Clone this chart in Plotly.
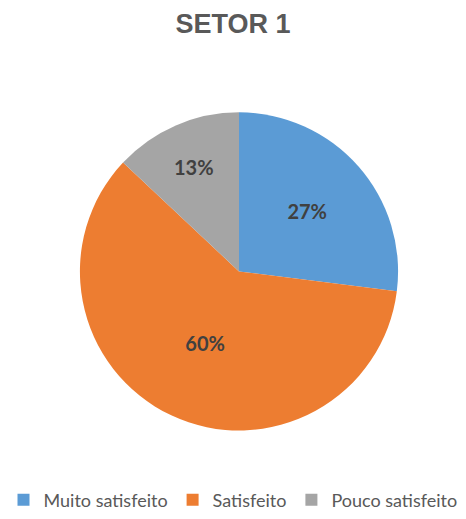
import plotly.graph_objects as go

# Satisfaction breakdown for sector 1
categories = ["Muito satisfeito", "Satisfeito", "Pouco satisfeito"]
shares = [27, 60, 13]
colors = ["#5B9BD5", "#ED7D31", "#A5A5A5"]

W, H = 466, 519
cx, cy, r = 239, 273, 160

fig = go.Figure(
    go.Pie(
        labels=categories,
        values=shares,
        sort=False,
        direction="clockwise",
        rotation=0,
        marker=dict(colors=colors, line=dict(width=0)),
        textinfo="percent",
        texttemplate="%{value}%",
        textposition="inside",
        insidetextorientation="horizontal",
        textfont=dict(family="Lato", size=20, color="#404040", weight="bold"),
        domain=dict(
            x=[(cx - r) / W, (cx + r) / W],
            y=[(H - cy - r) / H, (H - cy + r) / H],
        ),
        hoverinfo="label+percent",
    )
)

fig.update_layout(
    width=W,
    height=H,
    margin=dict(l=0, r=0, t=0, b=0),
    paper_bgcolor="white",
    plot_bgcolor="white",
    title=dict(
        text="<b>SETOR 1</b>",
        x=0.5,
        xanchor="center",
        y=1 - 24 / H,
        yanchor="middle",
        font=dict(family="Liberation Sans", size=27, color="#595959"),
    ),
    showlegend=True,
    legend=dict(
        orientation="h",
        x=0.5,
        xanchor="center",
        y=1 - 503 / H,
        yanchor="middle",
        font=dict(family="Lato", size=18, color="#595959"),
        itemwidth=30,
        tracegroupgap=0,
        traceorder="normal",
    ),
)

fig.write_html("out.html")
